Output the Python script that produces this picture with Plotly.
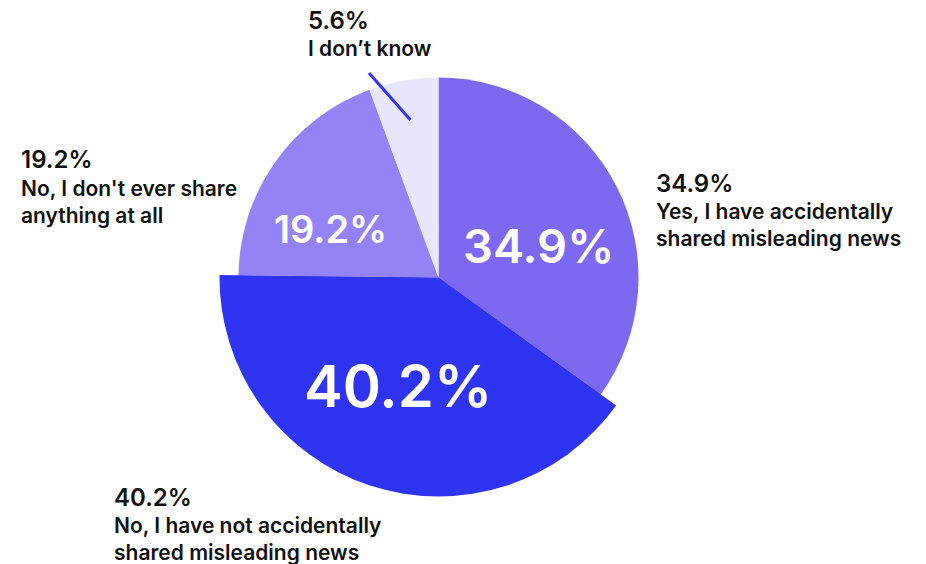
import math
import plotly.graph_objects as go

# Survey answers, clockwise from 12 o'clock
answers = [
    "Yes, I have accidentally<br>shared misleading news",
    "No, I have not accidentally<br>shared misleading news",
    "No, I don't ever share<br>anything at all",
    "I don\u2019t know",
]
shares = [34.9, 40.2, 19.2, 5.6]
colors = ["#7C69F0", "#2E34F0", "#9483F5", "#E8E6FC"]

W, H = 926, 564
CX, CY = 438.5, 277.5      # pie centre, px
R_BASE = 200               # radius of the regular slices, px
R_BIG = 219                # the highlighted slice sticks out further
BIG = 1                    # index of the highlighted slice


def dom(r):
    return dict(
        x=[(CX - r) / W, (CX + r) / W],
        y=[1 - (CY + r) / H, 1 - (CY - r) / H],
    )


def px(x, y):
    return x / W, 1 - y / H


fig = go.Figure()

# enlarged slice underneath
fig.add_trace(go.Pie(
    values=shares, labels=answers, sort=False, direction="clockwise",
    rotation=0, domain=dom(R_BIG), textinfo="none", hoverinfo="skip",
    marker=dict(colors=[c if i == BIG else "rgba(0,0,0,0)" for i, c in enumerate(colors)],
                line=dict(width=0)),
    showlegend=False,
))
# regular pie on top
fig.add_trace(go.Pie(
    values=shares, labels=answers, sort=False, direction="clockwise",
    rotation=0, domain=dom(R_BASE), textinfo="none",
    marker=dict(colors=colors, line=dict(width=0)),
    showlegend=False,
))

FONT = "Inter, 'Open Sans', sans-serif"
INK = "#111111"

# white value labels inside the slices
inside_pos = [(538, 245), (398, 386), (330, 229), None]
inside_size = [47, 58, 38, None]
for v, pos, size in zip(shares, inside_pos, inside_size):
    if pos is None:
        continue
    x, y = px(*pos)
    fig.add_annotation(x=x, y=y, xref="paper", yref="paper", showarrow=False,
                       text=f"{v}%", xanchor="center", yanchor="middle",
                       font=dict(family=FONT, size=size, color="white", weight=600))

# outside callouts: value on top, answer text below (left-aligned)
value_pos = [(654, 183), (112, 497), (19, 159), (306, 20)]
text_pos = [(654, 225), (112, 539), (19, 202), (306, 49)]
for v, name, vp, tp in zip(shares, answers, value_pos, text_pos):
    x, y = px(*vp)
    fig.add_annotation(x=x, y=y, xref="paper", yref="paper", showarrow=False,
                       text=f"{v}%", xanchor="left", yanchor="middle", align="left",
                       font=dict(family=FONT, size=24, color=INK, weight=600))
    x, y = px(*tp)
    fig.add_annotation(x=x, y=y, xref="paper", yref="paper", showarrow=False,
                       text=name, xanchor="left", yanchor="middle", align="left",
                       font=dict(family=FONT, size=21, color=INK, weight=600))

# leader line for the small "I don't know" slice
mid = 2 * math.pi * (sum(shares[:3]) + shares[3] / 2) / sum(shares)
x0, y0 = CX + 0.8 * R_BASE * math.sin(mid), CY - 0.8 * R_BASE * math.cos(mid)
x1, y1 = 369, 73
a, b = px(x0, y0)
c, d = px(x1, y1)
fig.add_shape(type="line", xref="paper", yref="paper", x0=a, y0=b, x1=c, y1=d,
              line=dict(color="#2E34F0", width=3))

fig.update_layout(
    width=W, height=H,
    margin=dict(l=0, r=0, t=0, b=0),
    paper_bgcolor="white", plot_bgcolor="white",
    showlegend=False,
)

fig.write_html("out.html")
